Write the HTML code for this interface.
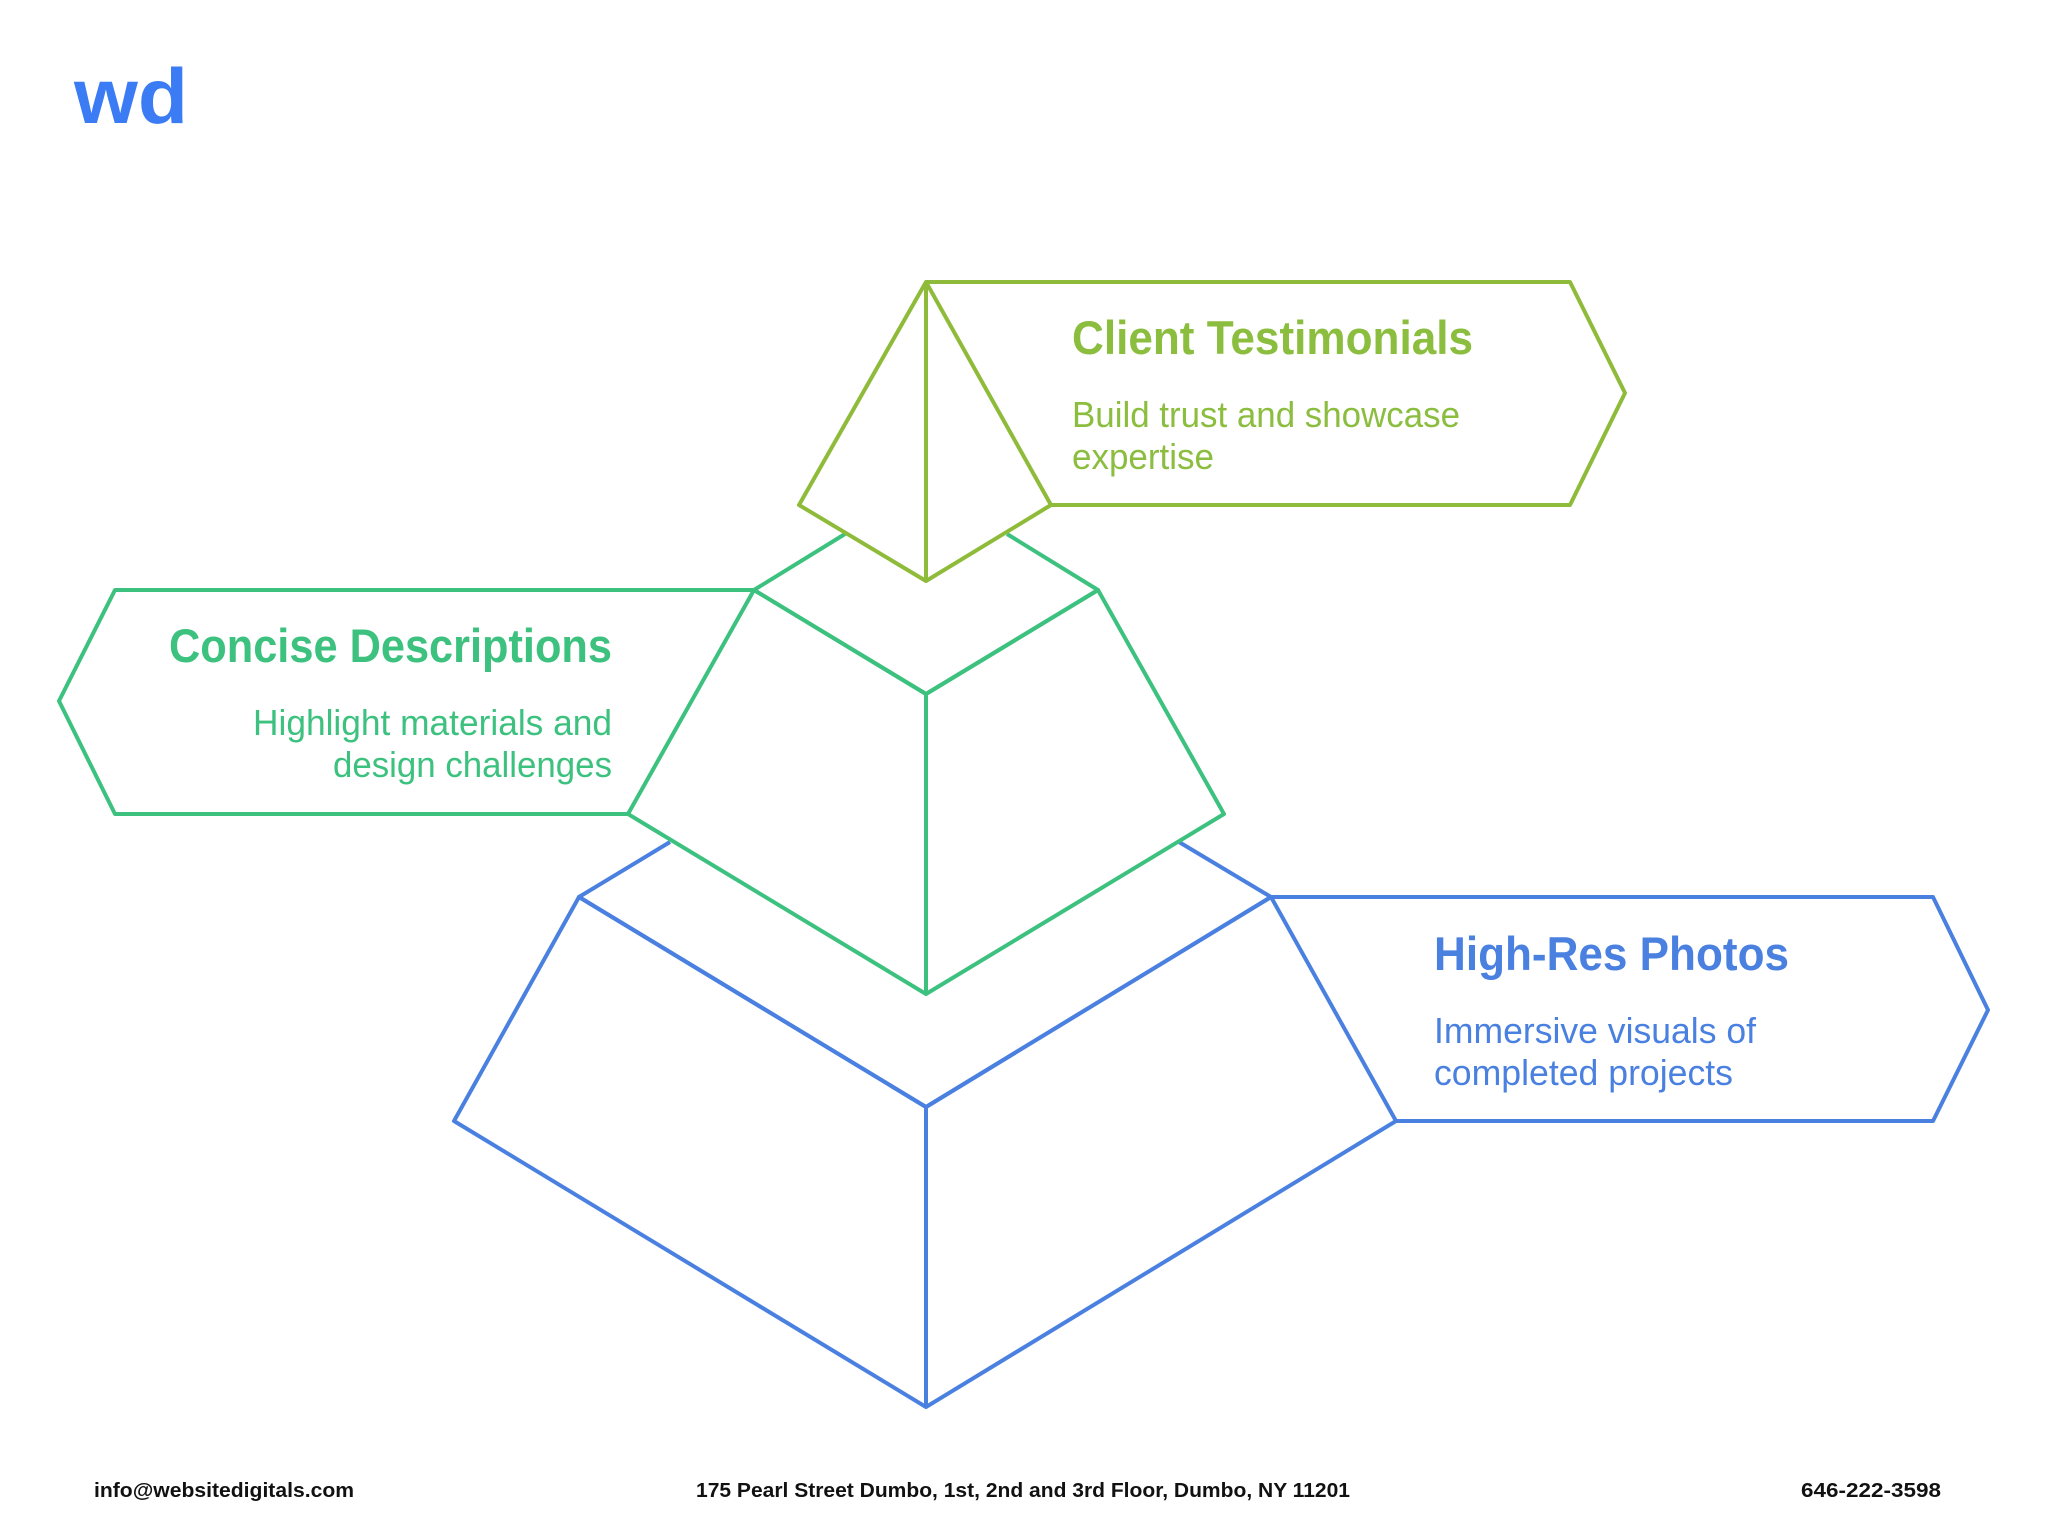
<!DOCTYPE html>
<html><head><meta charset="utf-8"><style>
html,body{margin:0;padding:0;background:#fff;}
svg{display:block;}
text{font-family:"Liberation Sans",sans-serif;}
</style></head><body>
<svg width="2048" height="1523" viewBox="0 0 2048 1523" xmlns="http://www.w3.org/2000/svg">
<text x="74" y="123" font-size="78" font-weight="bold" fill="#3b7cf5" textLength="114" lengthAdjust="spacingAndGlyphs">wd</text>

<g fill="none" stroke-width="4" stroke-linejoin="round">
<g stroke="#4a80e0">
<polyline points="670,842 579,897 926,1107 1271,897 1179,842"/>
<polygon points="579,897 926,1107 1271,897 1396,1121 926,1407 454,1121"/>
<line x1="926" y1="1107" x2="926" y2="1407"/>
<polyline points="1271,897 1933,897 1988,1010 1933,1121 1396,1121"/>
</g>
<g stroke="#3cc17f">
<polyline points="845,534 754,590 926,694 1098,590 1007,534"/>
<polygon points="754,590 926,694 1098,590 1224,814 926,994 628,814"/>
<line x1="926" y1="694" x2="926" y2="994"/>
<polyline points="754,590 115,590 59,701 115,814 628,814"/>
</g>
<g stroke="#8fbb3a">
<polygon points="926,282 1051,505 926,581 799,505"/>
<line x1="926" y1="282" x2="926" y2="581"/>
<polyline points="926,282 1570,282 1625,393 1570,505 1051,505"/>
</g>
</g>

<g fill="#8bbd3f">
<text x="1072" y="354" font-size="47" font-weight="bold" textLength="401" lengthAdjust="spacingAndGlyphs">Client Testimonials</text>
<text x="1072" y="427" font-size="36" textLength="388" lengthAdjust="spacingAndGlyphs">Build trust and showcase</text>
<text x="1072" y="469" font-size="36" textLength="142" lengthAdjust="spacingAndGlyphs">expertise</text>
</g>
<g fill="#3cc17f" text-anchor="end">
<text x="612" y="662" font-size="47" font-weight="bold" textLength="443" lengthAdjust="spacingAndGlyphs">Concise Descriptions</text>
<text x="612" y="735" font-size="36" textLength="359" lengthAdjust="spacingAndGlyphs">Highlight materials and</text>
<text x="612" y="777" font-size="36" textLength="279" lengthAdjust="spacingAndGlyphs">design challenges</text>
</g>
<g fill="#4a80e0">
<text x="1434" y="970" font-size="47" font-weight="bold" textLength="355" lengthAdjust="spacingAndGlyphs">High-Res Photos</text>
<text x="1434" y="1043" font-size="36" textLength="322" lengthAdjust="spacingAndGlyphs">Immersive visuals of</text>
<text x="1434" y="1085" font-size="36" textLength="299" lengthAdjust="spacingAndGlyphs">completed projects</text>
</g>

<g fill="#111" font-size="20" font-weight="bold">
<text x="94" y="1497" textLength="260" lengthAdjust="spacingAndGlyphs">info@websitedigitals.com</text>
<text x="696" y="1497" textLength="654" lengthAdjust="spacingAndGlyphs">175 Pearl Street Dumbo, 1st, 2nd and 3rd Floor, Dumbo, NY 11201</text>
<text x="1801" y="1497" textLength="140" lengthAdjust="spacingAndGlyphs">646-222-3598</text>
</g>
</svg>
</body></html>
